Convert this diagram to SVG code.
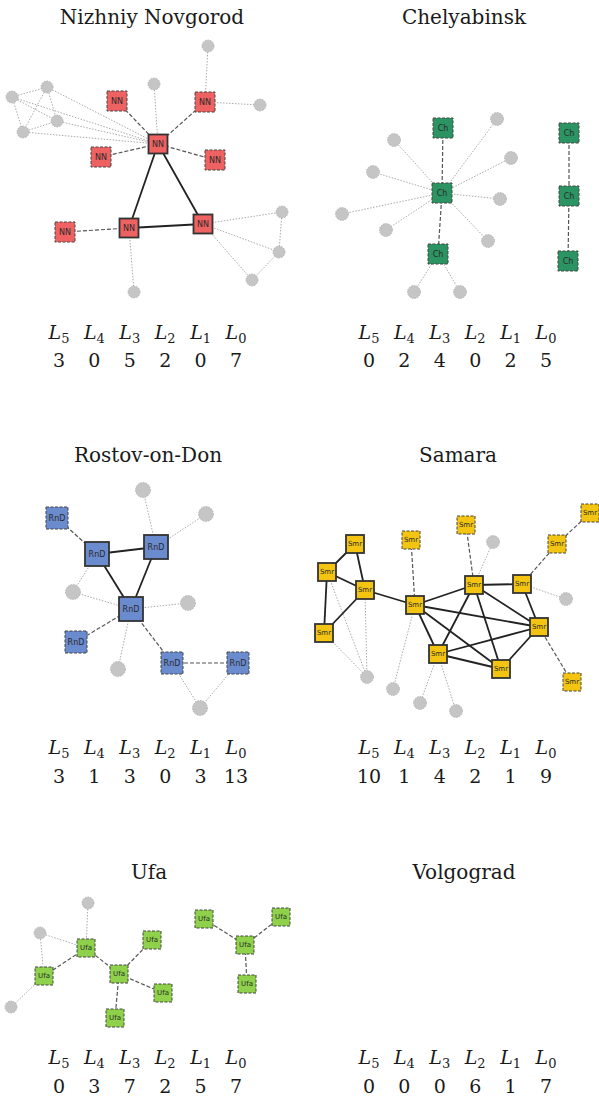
<svg xmlns="http://www.w3.org/2000/svg" width="599" height="1102" viewBox="0 0 599 1102">
  <style>
    .title { font-family: 'DejaVu Serif', serif; font-size: 20px; fill: #1a1a1a; text-anchor: middle; }
    .lv { font-family: 'DejaVu Serif', serif; font-size: 19px; font-style: italic; fill: #1a1a1a; text-anchor: middle; }
    .lv tspan { font-style: normal; font-size: 13px; }
    .num { font-family: 'DejaVu Serif', serif; font-size: 19px; fill: #1a1a1a; text-anchor: middle; }
    .c { fill: #c5c5c5; stroke: #aaa; stroke-width: 0.8; stroke-dasharray: 1.5 1.2; }
    .solid { stroke: #333; stroke-width: 1.8; }
    .dash { stroke: #444; stroke-width: 1; stroke-dasharray: 3 1.5; }
    .nn { fill: #ef6262; }
    .ch { fill: #2c9462; }
    .rnd { fill: #6a8bcd; }
    .smr { fill: #f3c412; }
    .ufa { fill: #8fd14b; }
    .lbl { font-family: 'DejaVu Sans', sans-serif; font-size: 8px; fill: #2a2a2a; text-anchor: middle; dominant-baseline: central; }
    .sm { font-size: 7px; }
    .e-solid { stroke: #222; stroke-width: 1.8; fill: none; }
    .e-dash { stroke: #555; stroke-width: 1.2; stroke-dasharray: 4 2; fill: none; }
    .e-dot { stroke: #aaa; stroke-width: 1; stroke-dasharray: 1.5 1.5; fill: none; }
  </style>
  <rect width="599" height="1102" fill="#fff"/>

  <!-- ===== Nizhniy Novgorod ===== -->
  <text class="title" x="152" y="24">Nizhniy Novgorod</text>
  <g id="nn-connectors">
    <line class="e-dot" x1="208" y1="46" x2="205" y2="102"/>
    <line class="e-dot" x1="205" y1="102" x2="260" y2="105"/>
    <line class="e-dot" x1="154" y1="84" x2="158" y2="144"/>
    <line class="e-dot" x1="47" y1="87" x2="158" y2="144"/>
    <line class="e-dot" x1="12" y1="97" x2="158" y2="144"/>
    <line class="e-dot" x1="57" y1="121" x2="158" y2="144"/>
    <line class="e-dot" x1="23" y1="132" x2="158" y2="144"/>
    <line class="e-dot" x1="12" y1="97" x2="47" y2="87"/>
    <line class="e-dot" x1="12" y1="97" x2="57" y2="121"/>
    <line class="e-dot" x1="12" y1="97" x2="23" y2="132"/>
    <line class="e-dot" x1="47" y1="87" x2="23" y2="132"/>
    <line class="e-dot" x1="47" y1="87" x2="57" y2="121"/>
    <line class="e-dot" x1="23" y1="132" x2="57" y2="121"/>
    <line class="e-dot" x1="203" y1="224" x2="282" y2="212"/>
    <line class="e-dot" x1="203" y1="224" x2="279" y2="252"/>
    <line class="e-dot" x1="203" y1="224" x2="252" y2="280"/>
    <line class="e-dot" x1="282" y1="212" x2="279" y2="252"/>
    <line class="e-dot" x1="279" y1="252" x2="252" y2="280"/>
    <line class="e-dot" x1="129" y1="228" x2="134" y2="292"/>
    <line class="e-dash" x1="117" y1="101" x2="158" y2="144"/>
    <line class="e-dash" x1="205" y1="102" x2="158" y2="144"/>
    <line class="e-dash" x1="101" y1="157" x2="158" y2="144"/>
    <line class="e-dash" x1="215" y1="160" x2="158" y2="144"/>
    <line class="e-dash" x1="65" y1="232" x2="129" y2="228"/>
    <line class="e-solid" x1="158" y1="144" x2="129" y2="228"/>
    <line class="e-solid" x1="158" y1="144" x2="203" y2="224"/>
    <line class="e-solid" x1="129" y1="228" x2="203" y2="224"/>
  </g>
  <g id="nn-c1"><circle class="c" cx="208" cy="46" r="6"/></g>
  <g id="nn-c2"><circle class="c" cx="154" cy="84" r="6"/></g>
  <g id="nn-c3"><circle class="c" cx="47" cy="87" r="6"/></g>
  <g id="nn-c4"><circle class="c" cx="12" cy="97" r="6"/></g>
  <g id="nn-c5"><circle class="c" cx="57" cy="121" r="6"/></g>
  <g id="nn-c6"><circle class="c" cx="23" cy="132" r="6"/></g>
  <g id="nn-c7"><circle class="c" cx="260" cy="105" r="6"/></g>
  <g id="nn-c8"><circle class="c" cx="282" cy="212" r="6"/></g>
  <g id="nn-c9"><circle class="c" cx="279" cy="252" r="6"/></g>
  <g id="nn-c10"><circle class="c" cx="252" cy="280" r="6"/></g>
  <g id="nn-c11"><circle class="c" cx="134" cy="292" r="6"/></g>
  <g id="nn-1"><rect class="nn dash" x="107" y="91" width="20" height="20"/><text class="lbl" x="117" y="101">NN</text></g>
  <g id="nn-2"><rect class="nn dash" x="195" y="92" width="20" height="20"/><text class="lbl" x="205" y="102">NN</text></g>
  <g id="nn-3"><rect class="nn dash" x="91" y="147" width="20" height="20"/><text class="lbl" x="101" y="157">NN</text></g>
  <g id="nn-4"><rect class="nn dash" x="205" y="150" width="20" height="20"/><text class="lbl" x="215" y="160">NN</text></g>
  <g id="nn-5"><rect class="nn dash" x="55" y="222" width="20" height="20"/><text class="lbl" x="65" y="232">NN</text></g>
  <g id="nn-6"><rect class="nn solid" x="148.5" y="134.5" width="19" height="19"/><text class="lbl" x="158" y="144">NN</text></g>
  <g id="nn-7"><rect class="nn solid" x="119.5" y="218.5" width="19" height="19"/><text class="lbl" x="129" y="228">NN</text></g>
  <g id="nn-8"><rect class="nn solid" x="193.5" y="214.5" width="19" height="19"/><text class="lbl" x="203" y="224">NN</text></g>
  <g id="nn-table">
    <text class="lv" x="59" y="339">L<tspan dy="4">5</tspan></text>
    <text class="lv" x="94.4" y="339">L<tspan dy="4">4</tspan></text>
    <text class="lv" x="129.8" y="339">L<tspan dy="4">3</tspan></text>
    <text class="lv" x="165.2" y="339">L<tspan dy="4">2</tspan></text>
    <text class="lv" x="200.6" y="339">L<tspan dy="4">1</tspan></text>
    <text class="lv" x="236" y="339">L<tspan dy="4">0</tspan></text>
    <text class="num" x="59" y="367">3</text>
    <text class="num" x="94.4" y="367">0</text>
    <text class="num" x="129.8" y="367">5</text>
    <text class="num" x="165.2" y="367">2</text>
    <text class="num" x="200.6" y="367">0</text>
    <text class="num" x="236" y="367">7</text>
  </g>

  <!-- ===== Chelyabinsk ===== -->
  <text class="title" x="464" y="24">Chelyabinsk</text>
  <g id="ch-connectors">
    <line class="e-dot" x1="442" y1="193" x2="497" y2="119"/>
    <line class="e-dot" x1="442" y1="193" x2="394" y2="140"/>
    <line class="e-dot" x1="442" y1="193" x2="511" y2="158"/>
    <line class="e-dot" x1="442" y1="193" x2="373" y2="172"/>
    <line class="e-dot" x1="442" y1="193" x2="500" y2="199"/>
    <line class="e-dot" x1="442" y1="193" x2="342" y2="214"/>
    <line class="e-dot" x1="442" y1="193" x2="386" y2="230"/>
    <line class="e-dot" x1="442" y1="193" x2="488" y2="241"/>
    <line class="e-dot" x1="438" y1="254" x2="414" y2="292"/>
    <line class="e-dot" x1="438" y1="254" x2="460" y2="292"/>
    <line class="e-dash" x1="443" y1="128" x2="442" y2="193"/>
    <line class="e-dash" x1="442" y1="193" x2="438" y2="254"/>
    <line class="e-dash" x1="569" y1="133" x2="569" y2="196"/>
    <line class="e-dash" x1="569" y1="196" x2="568" y2="261"/>
  </g>
  <g id="ch-c1"><circle class="c" cx="497" cy="119" r="6.5"/></g>
  <g id="ch-c2"><circle class="c" cx="394" cy="140" r="6.5"/></g>
  <g id="ch-c3"><circle class="c" cx="511" cy="158" r="6.5"/></g>
  <g id="ch-c4"><circle class="c" cx="373" cy="172" r="6.5"/></g>
  <g id="ch-c5"><circle class="c" cx="500" cy="199" r="6.5"/></g>
  <g id="ch-c6"><circle class="c" cx="342" cy="214" r="6.5"/></g>
  <g id="ch-c7"><circle class="c" cx="386" cy="230" r="6.5"/></g>
  <g id="ch-c8"><circle class="c" cx="488" cy="241" r="6.5"/></g>
  <g id="ch-c9"><circle class="c" cx="414" cy="292" r="6.5"/></g>
  <g id="ch-c10"><circle class="c" cx="460" cy="292" r="6.5"/></g>
  <g id="ch-1"><rect class="ch dash" x="433" y="118" width="20" height="20"/><text class="lbl" x="443" y="128">Ch</text></g>
  <g id="ch-2"><rect class="ch dash" x="432" y="183" width="20" height="20"/><text class="lbl" x="442" y="193">Ch</text></g>
  <g id="ch-3"><rect class="ch dash" x="428" y="244" width="20" height="20"/><text class="lbl" x="438" y="254">Ch</text></g>
  <g id="ch-4"><rect class="ch dash" x="559" y="123" width="20" height="20"/><text class="lbl" x="569" y="133">Ch</text></g>
  <g id="ch-5"><rect class="ch dash" x="559" y="186" width="20" height="20"/><text class="lbl" x="569" y="196">Ch</text></g>
  <g id="ch-6"><rect class="ch dash" x="558" y="251" width="20" height="20"/><text class="lbl" x="568" y="261">Ch</text></g>
  <g id="ch-table" transform="translate(310 0)">
    <text class="lv" x="59" y="339">L<tspan dy="4">5</tspan></text>
    <text class="lv" x="94.4" y="339">L<tspan dy="4">4</tspan></text>
    <text class="lv" x="129.8" y="339">L<tspan dy="4">3</tspan></text>
    <text class="lv" x="165.2" y="339">L<tspan dy="4">2</tspan></text>
    <text class="lv" x="200.6" y="339">L<tspan dy="4">1</tspan></text>
    <text class="lv" x="236" y="339">L<tspan dy="4">0</tspan></text>
    <text class="num" x="59" y="367">0</text>
    <text class="num" x="94.4" y="367">2</text>
    <text class="num" x="129.8" y="367">4</text>
    <text class="num" x="165.2" y="367">0</text>
    <text class="num" x="200.6" y="367">2</text>
    <text class="num" x="236" y="367">5</text>
  </g>

  <!-- ===== Rostov-on-Don ===== -->
  <text class="title" x="148" y="462">Rostov-on-Don</text>
  <g id="rnd-connectors">
    <line class="e-dot" x1="143" y1="490" x2="156" y2="547"/>
    <line class="e-dot" x1="206" y1="514" x2="156" y2="547"/>
    <line class="e-dot" x1="73" y1="592" x2="97" y2="554"/>
    <line class="e-dot" x1="73" y1="592" x2="131" y2="609"/>
    <line class="e-dot" x1="188" y1="603" x2="131" y2="609"/>
    <line class="e-dot" x1="118" y1="669" x2="131" y2="609"/>
    <line class="e-dot" x1="172" y1="663" x2="200" y2="708"/>
    <line class="e-dot" x1="238" y1="663" x2="200" y2="708"/>
    <line class="e-dash" x1="57" y1="518" x2="97" y2="554"/>
    <line class="e-dash" x1="131" y1="609" x2="76" y2="642"/>
    <line class="e-dash" x1="131" y1="609" x2="172" y2="663"/>
    <line class="e-dash" x1="172" y1="663" x2="238" y2="663"/>
    <line class="e-solid" x1="97" y1="554" x2="156" y2="547"/>
    <line class="e-solid" x1="97" y1="554" x2="131" y2="609"/>
    <line class="e-solid" x1="156" y1="547" x2="131" y2="609"/>
  </g>
  <g id="rnd-c1"><circle class="c" cx="143" cy="490" r="7.5"/></g>
  <g id="rnd-c2"><circle class="c" cx="206" cy="514" r="7.5"/></g>
  <g id="rnd-c3"><circle class="c" cx="73" cy="592" r="7.5"/></g>
  <g id="rnd-c4"><circle class="c" cx="188" cy="603" r="7.5"/></g>
  <g id="rnd-c5"><circle class="c" cx="118" cy="669" r="7.5"/></g>
  <g id="rnd-c6"><circle class="c" cx="200" cy="708" r="7.5"/></g>
  <g id="rnd-1"><rect class="rnd dash" x="46" y="507" width="22" height="22"/><text class="lbl" x="57" y="518">RnD</text></g>
  <g id="rnd-2"><rect class="rnd solid" x="85" y="542" width="24" height="24"/><text class="lbl" x="97" y="554">RnD</text></g>
  <g id="rnd-3"><rect class="rnd solid" x="144" y="535" width="24" height="24"/><text class="lbl" x="156" y="547">RnD</text></g>
  <g id="rnd-4"><rect class="rnd solid" x="119" y="597" width="24" height="24"/><text class="lbl" x="131" y="609">RnD</text></g>
  <g id="rnd-5"><rect class="rnd dash" x="65" y="631" width="22" height="22"/><text class="lbl" x="76" y="642">RnD</text></g>
  <g id="rnd-6"><rect class="rnd dash" x="161" y="652" width="22" height="22"/><text class="lbl" x="172" y="663">RnD</text></g>
  <g id="rnd-7"><rect class="rnd dash" x="227" y="652" width="22" height="22"/><text class="lbl" x="238" y="663">RnD</text></g>
  <g id="rnd-table">
    <text class="lv" x="59" y="754">L<tspan dy="4">5</tspan></text>
    <text class="lv" x="94.4" y="754">L<tspan dy="4">4</tspan></text>
    <text class="lv" x="129.8" y="754">L<tspan dy="4">3</tspan></text>
    <text class="lv" x="165.2" y="754">L<tspan dy="4">2</tspan></text>
    <text class="lv" x="200.6" y="754">L<tspan dy="4">1</tspan></text>
    <text class="lv" x="236" y="754">L<tspan dy="4">0</tspan></text>
    <text class="num" x="59" y="783">3</text>
    <text class="num" x="94.4" y="783">1</text>
    <text class="num" x="129.8" y="783">3</text>
    <text class="num" x="165.2" y="783">0</text>
    <text class="num" x="200.6" y="783">3</text>
    <text class="num" x="236" y="783">13</text>
  </g>

  <!-- ===== Samara ===== -->
  <text class="title" x="458" y="462">Samara</text>
  <g id="smr-connectors">
    <line class="e-dot" x1="327" y1="572" x2="367" y2="677"/>
    <line class="e-dot" x1="365" y1="590" x2="367" y2="677"/>
    <line class="e-dot" x1="324" y1="633" x2="367" y2="677"/>
    <line class="e-dot" x1="415" y1="605" x2="393" y2="689"/>
    <line class="e-dot" x1="438" y1="654" x2="420" y2="703"/>
    <line class="e-dot" x1="438" y1="654" x2="456" y2="711"/>
    <line class="e-dot" x1="474" y1="585" x2="493" y2="542"/>
    <line class="e-dot" x1="522" y1="584" x2="566" y2="599"/>
    <line class="e-dash" x1="411" y1="540" x2="415" y2="605"/>
    <line class="e-dash" x1="466" y1="525" x2="474" y2="585"/>
    <line class="e-dash" x1="590" y1="513" x2="557" y2="544"/>
    <line class="e-dash" x1="557" y1="544" x2="522" y2="584"/>
    <line class="e-dash" x1="539" y1="627" x2="572" y2="682"/>
    <line class="e-solid" x1="355" y1="544" x2="327" y2="572"/>
    <line class="e-solid" x1="355" y1="544" x2="365" y2="590"/>
    <line class="e-solid" x1="327" y1="572" x2="365" y2="590"/>
    <line class="e-solid" x1="327" y1="572" x2="324" y2="633"/>
    <line class="e-solid" x1="324" y1="633" x2="365" y2="590"/>
    <line class="e-solid" x1="365" y1="590" x2="415" y2="605"/>
    <line class="e-solid" x1="415" y1="605" x2="474" y2="585"/>
    <line class="e-solid" x1="415" y1="605" x2="539" y2="627"/>
    <line class="e-solid" x1="415" y1="605" x2="501" y2="669"/>
    <line class="e-solid" x1="415" y1="605" x2="438" y2="654"/>
    <line class="e-solid" x1="474" y1="585" x2="522" y2="584"/>
    <line class="e-solid" x1="474" y1="585" x2="438" y2="654"/>
    <line class="e-solid" x1="474" y1="585" x2="501" y2="669"/>
    <line class="e-solid" x1="474" y1="585" x2="539" y2="627"/>
    <line class="e-solid" x1="522" y1="584" x2="539" y2="627"/>
    <line class="e-solid" x1="438" y1="654" x2="539" y2="627"/>
    <line class="e-solid" x1="438" y1="654" x2="501" y2="669"/>
    <line class="e-solid" x1="501" y1="669" x2="539" y2="627"/>
  </g>
  <g id="smr-c1"><circle class="c" cx="493" cy="542" r="6.5"/></g>
  <g id="smr-c2"><circle class="c" cx="566" cy="599" r="6.5"/></g>
  <g id="smr-c3"><circle class="c" cx="367" cy="677" r="6.5"/></g>
  <g id="smr-c4"><circle class="c" cx="393" cy="689" r="6.5"/></g>
  <g id="smr-c5"><circle class="c" cx="420" cy="703" r="6.5"/></g>
  <g id="smr-c6"><circle class="c" cx="456" cy="711" r="6.5"/></g>
  <g id="smr-1"><rect class="smr solid" x="346" y="535" width="18" height="18"/><text class="lbl sm" x="355" y="544">Smr</text></g>
  <g id="smr-2"><rect class="smr solid" x="318" y="563" width="18" height="18"/><text class="lbl sm" x="327" y="572">Smr</text></g>
  <g id="smr-3"><rect class="smr solid" x="356" y="581" width="18" height="18"/><text class="lbl sm" x="365" y="590">Smr</text></g>
  <g id="smr-4"><rect class="smr solid" x="315" y="624" width="18" height="18"/><text class="lbl sm" x="324" y="633">Smr</text></g>
  <g id="smr-5"><rect class="smr solid" x="406" y="596" width="18" height="18"/><text class="lbl sm" x="415" y="605">Smr</text></g>
  <g id="smr-6"><rect class="smr solid" x="465" y="576" width="18" height="18"/><text class="lbl sm" x="474" y="585">Smr</text></g>
  <g id="smr-7"><rect class="smr solid" x="513" y="575" width="18" height="18"/><text class="lbl sm" x="522" y="584">Smr</text></g>
  <g id="smr-8"><rect class="smr solid" x="530" y="618" width="18" height="18"/><text class="lbl sm" x="539" y="627">Smr</text></g>
  <g id="smr-9"><rect class="smr solid" x="429" y="645" width="18" height="18"/><text class="lbl sm" x="438" y="654">Smr</text></g>
  <g id="smr-10"><rect class="smr solid" x="492" y="660" width="18" height="18"/><text class="lbl sm" x="501" y="669">Smr</text></g>
  <g id="smr-11"><rect class="smr dash" x="402" y="531" width="18" height="18"/><text class="lbl sm" x="411" y="540">Smr</text></g>
  <g id="smr-12"><rect class="smr dash" x="457" y="516" width="18" height="18"/><text class="lbl sm" x="466" y="525">Smr</text></g>
  <g id="smr-13"><rect class="smr dash" x="581" y="504" width="18" height="18"/><text class="lbl sm" x="590" y="513">Smr</text></g>
  <g id="smr-14"><rect class="smr dash" x="548" y="535" width="18" height="18"/><text class="lbl sm" x="557" y="544">Smr</text></g>
  <g id="smr-15"><rect class="smr dash" x="563" y="673" width="18" height="18"/><text class="lbl sm" x="572" y="682">Smr</text></g>
  <g id="smr-table" transform="translate(310 0)">
    <text class="lv" x="59" y="754">L<tspan dy="4">5</tspan></text>
    <text class="lv" x="94.4" y="754">L<tspan dy="4">4</tspan></text>
    <text class="lv" x="129.8" y="754">L<tspan dy="4">3</tspan></text>
    <text class="lv" x="165.2" y="754">L<tspan dy="4">2</tspan></text>
    <text class="lv" x="200.6" y="754">L<tspan dy="4">1</tspan></text>
    <text class="lv" x="236" y="754">L<tspan dy="4">0</tspan></text>
    <text class="num" x="59" y="783">10</text>
    <text class="num" x="94.4" y="783">1</text>
    <text class="num" x="129.8" y="783">4</text>
    <text class="num" x="165.2" y="783">2</text>
    <text class="num" x="200.6" y="783">1</text>
    <text class="num" x="236" y="783">9</text>
  </g>

  <!-- ===== Ufa ===== -->
  <text class="title" x="149" y="879">Ufa</text>
  <g id="ufa-connectors">
    <line class="e-dot" x1="88" y1="903" x2="86" y2="948"/>
    <line class="e-dot" x1="40" y1="933" x2="86" y2="948"/>
    <line class="e-dot" x1="40" y1="933" x2="44" y2="976"/>
    <line class="e-dot" x1="11" y1="1007" x2="44" y2="976"/>
    <line class="e-dash" x1="86" y1="948" x2="44" y2="976"/>
    <line class="e-dash" x1="86" y1="948" x2="119" y2="974"/>
    <line class="e-dash" x1="119" y1="974" x2="152" y2="940"/>
    <line class="e-dash" x1="119" y1="974" x2="163" y2="993"/>
    <line class="e-dash" x1="119" y1="974" x2="115" y2="1018"/>
    <line class="e-dash" x1="204" y1="919" x2="245" y2="945"/>
    <line class="e-dash" x1="281" y1="917" x2="245" y2="945"/>
    <line class="e-dash" x1="245" y1="945" x2="247" y2="984"/>
  </g>
  <g id="ufa-c1"><circle class="c" cx="88" cy="903" r="6"/></g>
  <g id="ufa-c2"><circle class="c" cx="40" cy="933" r="6"/></g>
  <g id="ufa-c3"><circle class="c" cx="11" cy="1007" r="6"/></g>
  <g id="ufa-1"><rect class="ufa dash" x="77" y="939" width="18" height="18"/><text class="lbl sm" x="86" y="948">Ufa</text></g>
  <g id="ufa-2"><rect class="ufa dash" x="35" y="967" width="18" height="18"/><text class="lbl sm" x="44" y="976">Ufa</text></g>
  <g id="ufa-3"><rect class="ufa dash" x="110" y="965" width="18" height="18"/><text class="lbl sm" x="119" y="974">Ufa</text></g>
  <g id="ufa-4"><rect class="ufa dash" x="143" y="931" width="18" height="18"/><text class="lbl sm" x="152" y="940">Ufa</text></g>
  <g id="ufa-5"><rect class="ufa dash" x="154" y="984" width="18" height="18"/><text class="lbl sm" x="163" y="993">Ufa</text></g>
  <g id="ufa-6"><rect class="ufa dash" x="106" y="1009" width="18" height="18"/><text class="lbl sm" x="115" y="1018">Ufa</text></g>
  <g id="ufa-7"><rect class="ufa dash" x="195" y="910" width="18" height="18"/><text class="lbl sm" x="204" y="919">Ufa</text></g>
  <g id="ufa-8"><rect class="ufa dash" x="272" y="908" width="18" height="18"/><text class="lbl sm" x="281" y="917">Ufa</text></g>
  <g id="ufa-9"><rect class="ufa dash" x="236" y="936" width="18" height="18"/><text class="lbl sm" x="245" y="945">Ufa</text></g>
  <g id="ufa-10"><rect class="ufa dash" x="238" y="975" width="18" height="18"/><text class="lbl sm" x="247" y="984">Ufa</text></g>
  <g id="ufa-table">
    <text class="lv" x="59" y="1064">L<tspan dy="4">5</tspan></text>
    <text class="lv" x="94.4" y="1064">L<tspan dy="4">4</tspan></text>
    <text class="lv" x="129.8" y="1064">L<tspan dy="4">3</tspan></text>
    <text class="lv" x="165.2" y="1064">L<tspan dy="4">2</tspan></text>
    <text class="lv" x="200.6" y="1064">L<tspan dy="4">1</tspan></text>
    <text class="lv" x="236" y="1064">L<tspan dy="4">0</tspan></text>
    <text class="num" x="59" y="1093">0</text>
    <text class="num" x="94.4" y="1093">3</text>
    <text class="num" x="129.8" y="1093">7</text>
    <text class="num" x="165.2" y="1093">2</text>
    <text class="num" x="200.6" y="1093">5</text>
    <text class="num" x="236" y="1093">7</text>
  </g>

  <!-- ===== Volgograd ===== -->
  <text class="title" x="464" y="879">Volgograd</text>
  <g id="vlg-table" transform="translate(310 0)">
    <text class="lv" x="59" y="1064">L<tspan dy="4">5</tspan></text>
    <text class="lv" x="94.4" y="1064">L<tspan dy="4">4</tspan></text>
    <text class="lv" x="129.8" y="1064">L<tspan dy="4">3</tspan></text>
    <text class="lv" x="165.2" y="1064">L<tspan dy="4">2</tspan></text>
    <text class="lv" x="200.6" y="1064">L<tspan dy="4">1</tspan></text>
    <text class="lv" x="236" y="1064">L<tspan dy="4">0</tspan></text>
    <text class="num" x="59" y="1093">0</text>
    <text class="num" x="94.4" y="1093">0</text>
    <text class="num" x="129.8" y="1093">0</text>
    <text class="num" x="165.2" y="1093">6</text>
    <text class="num" x="200.6" y="1093">1</text>
    <text class="num" x="236" y="1093">7</text>
  </g>
</svg>
